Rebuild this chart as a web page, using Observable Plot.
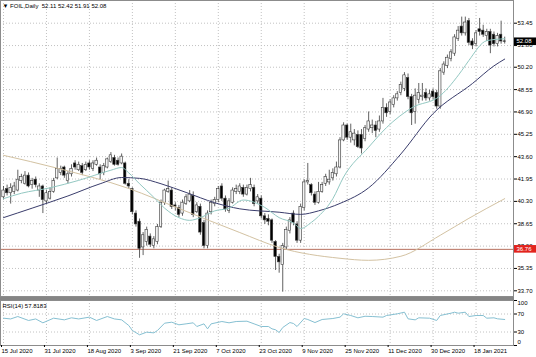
<!DOCTYPE html>
<html><head><meta charset="utf-8">
<script src="https://cdn.jsdelivr.net/npm/d3@7"></script>
<script src="https://cdn.jsdelivr.net/npm/@observablehq/plot@0.6"></script>
<style>
html,body{margin:0;padding:0;background:#fff;}
#chart{position:relative;width:536px;height:357px;overflow:hidden;background:#fff;}
#chart svg{position:absolute;left:0;display:block;}
#sep{position:absolute;left:0;top:297px;width:514px;height:3px;background:#858585;}
</style></head><body><div id="chart"><div id="sep"></div></div>
<script>
// ---- Data ----
const symbol = "FOIL,Daily";
const opens  = [40.6,41.2,40.9,41.0,41.1,41.8,41.6,42.2,41.5,41.9,41.1,41.4,40.3,40.5,41.0,42.0,42.4,42.8,41.8,42.3,43.1,42.6,42.9,42.6,43.1,42.7,43.0,42.8,42.4,42.8,43.2,43.5,43.3,43.1,43.1,41.6,41.2,39.4,38.8,36.9,37.3,37.7,37.0,37.3,38.4,40.2,41.0,41.1,40.0,39.8,39.4,40.1,40.3,40.7,39.5,39.9,38.7,37.0,39.5,40.1,40.4,41.4,40.5,39.6,40.2,41.0,41.0,41.3,40.8,41.2,41.3,40.3,40.5,39.2,39.0,38.9,37.3,36.2,35.6,36.9,38.1,39.4,38.6,37.4,39.8,41.7,41.5,40.8,40.2,41.0,41.6,41.7,42.0,42.3,42.8,44.8,45.9,45.0,44.8,45.2,45.2,44.9,45.6,45.7,45.9,45.6,46.2,47.2,46.9,47.4,47.9,48.3,48.6,49.4,48.0,46.9,47.8,48.0,48.3,47.9,48.4,48.3,47.3,49.8,50.3,50.8,51.2,52.3,53.2,52.7,53.6,52.1,51.9,53.0,52.9,52.5,52.8,52.6,51.9,52.6,52.11];
const highs  = [41.4,41.5,41.6,41.7,42.6,42.3,42.5,42.4,42.0,42.1,41.6,41.5,41.1,41.3,42.0,43.5,42.9,42.9,42.5,43.0,43.3,43.2,43.1,43.2,43.3,43.3,43.5,43.0,43.1,43.5,43.9,43.7,43.5,43.8,43.2,41.9,41.3,39.6,39.0,38.0,38.4,37.9,37.7,38.6,40.4,41.2,41.8,41.3,40.2,40.0,40.4,40.8,41.1,41.0,40.2,40.1,38.9,39.6,40.4,40.6,41.4,41.6,40.7,40.5,41.3,41.5,41.6,41.5,41.5,42.0,41.5,40.8,40.7,39.4,39.3,39.0,37.4,36.4,37.2,38.4,39.1,39.6,38.8,40.1,41.9,43.1,41.6,41.0,41.7,41.7,42.3,42.6,42.7,43.2,45.0,46.1,46.0,46.0,45.6,45.5,45.6,45.9,46.9,46.3,46.2,46.6,47.9,47.5,47.8,48.1,48.4,49.1,49.8,49.7,48.2,48.6,49.0,49.0,48.6,48.5,48.6,48.5,50.1,50.6,51.1,51.5,52.6,53.2,53.9,53.9,53.8,52.3,52.9,53.8,53.3,53.0,53.0,52.8,52.7,53.6,52.42];
const lows   = [40.4,40.7,40.1,40.8,41.0,41.6,41.5,41.3,41.2,41.3,40.6,39.4,40.1,40.4,40.9,41.9,42.2,42.0,41.6,42.1,42.6,42.5,42.2,42.5,42.6,42.5,42.9,41.9,42.2,42.7,43.1,42.9,42.9,43.0,41.5,41.2,39.3,38.4,36.1,36.3,37.0,36.9,36.8,37.1,38.3,40.0,40.9,39.7,39.6,39.1,39.2,40.0,40.2,39.1,39.4,37.8,36.8,36.8,39.3,39.9,40.2,40.3,39.5,39.4,40.1,40.8,40.8,40.6,40.7,41.0,39.9,40.1,39.0,38.6,38.5,37.2,35.2,35.0,33.6,36.7,37.9,38.5,37.2,37.2,39.6,41.5,40.7,40.0,40.1,40.9,41.4,41.5,41.8,42.1,42.7,44.7,44.8,44.6,44.4,44.2,43.8,44.7,45.4,45.3,45.0,45.4,46.0,46.5,46.7,47.2,47.7,48.1,48.4,47.8,45.9,46.0,47.5,47.7,47.7,47.7,47.8,47.1,47.1,49.6,50.1,50.6,51.0,52.1,52.5,52.5,51.8,51.5,51.7,52.5,52.4,52.1,51.2,51.7,51.7,51.9,51.91];
const closes = [41.1,40.9,41.3,41.4,41.9,42.1,42.2,41.4,41.8,41.5,41.4,40.4,40.9,41.0,41.8,42.7,42.7,42.2,42.3,42.7,42.8,43.0,42.4,43.0,42.8,43.1,43.3,42.3,42.9,43.4,43.7,43.0,43.0,43.6,41.6,41.4,39.5,38.6,36.8,37.8,38.2,37.1,37.5,38.4,40.2,41.1,41.2,39.9,39.9,39.3,40.2,40.6,40.8,39.3,40.0,38.0,37.0,39.4,40.2,40.4,41.2,40.5,39.7,40.3,41.1,41.2,41.4,40.8,41.3,41.5,40.1,40.6,39.2,38.9,38.8,37.4,36.2,35.8,37.0,38.2,38.9,38.7,37.4,39.9,41.7,41.8,40.9,40.2,41.0,41.5,42.1,41.9,42.4,42.8,44.8,45.9,45.0,45.4,45.3,44.3,44.2,45.7,46.2,45.9,45.5,46.2,47.2,46.8,47.6,47.9,48.2,48.9,49.6,48.0,46.8,48.1,48.3,48.1,47.9,48.2,48.0,47.3,49.9,50.4,50.9,51.3,52.4,52.9,52.7,53.5,52.0,51.8,52.7,52.8,52.6,52.8,51.8,51.9,52.5,52.1,52.08];

// moving averages read at sample bars
const fastMaIdx = [0,5,13,21,30,33,35,38,42,45,49,52,55,59,63,67,73,77,81,83,86,88,92,95,102,107,114,122,128,130,135,140];
const fastMaVal = [40.5,40.9,41.3,41.85,42.6,42.8,42.4,41.6,40.6,39.8,39.1,38.9,39.1,39.6,39.8,40.4,39.85,39.1,38.7,38.3,38.75,39.2,40.5,42.1,44.3,45.75,47.2,48.1,49.95,50.7,52.16,52.3];
const midMaIdx  = [0,8,18,27,33,38,44,51,59,66,77,83,88,94,102,111,120,131,137,140];
const midMaVal  = [39.1,39.8,40.7,41.6,42.06,42.0,41.6,40.96,40.2,39.75,39.5,39.34,39.6,40.15,41.3,43.8,46.78,49.0,50.3,50.8];
const slowMaIdx = [0,15,35,49,66,77,94,102,111,122,130,140];
const slowMaVal = [43.7,42.75,41.25,39.78,38.0,36.9,36.1,35.95,36.25,37.8,39.05,40.5];

// RSI(14) read at sample bars
const rsiIdx = [0,2,4,7,9,11,14,17,19,21,24,26,29,31,33,35,36,38,40,42,43,45,47,49,51,53,54,56,57,58,61,63,65,68,70,72,74,75,76,77,78,80,81,82,84,85,87,89,92,94,95,97,99,101,103,106,107,110,112,113,115,116,119,121,122,125,126,127,129,130,132,134,135,137,138,140];
const rsiVal = [60.7,59,64.4,55.6,59,50.4,60.7,57,61.5,59,63,55.6,64.4,59,57,44.4,33.3,23.8,29.6,28.1,33.3,49.6,51.8,46,48.1,50.4,42.2,48.1,37,48.1,53.3,50.4,53.3,54,48.1,42.2,42.2,37,35,28.9,40,51,48.9,42.2,60,57.8,51,57.8,60,63,70.4,66.7,61.5,65,64.4,63,66.7,70.4,74,59.3,57,61.5,60.7,55.6,66.7,71.8,74,71.8,74,64.4,66.7,66.7,60.7,61.5,59.3,57.8];
const rsiLast = "57.8183";

const dateIdx    = [0,12,24,36,48,60,72,84,96,108,120,132];
const dateLabels = ["15 Jul 2020","31 Jul 2020","18 Aug 2020","3 Sep 2020","21 Sep 2020","7 Oct 2020","23 Oct 2020","9 Nov 2020","25 Nov 2020","11 Dec 2020","30 Dec 2020","18 Jan 2021"];
const priceTicks = [33.70,35.35,37.00,38.65,40.30,41.95,43.60,45.25,46.90,48.55,50.20,51.80,53.45];
const rsiTicks   = [100,70,30,0];
const levelPrice = 36.76;

// ---- Build ----
const bars = opens.map((o,k)=>({i:k,o,h:highs[k],l:lows[k],c:closes[k]}));
const pts = (ix, v) => ix.map((x,k)=>({x, y:v[k]}));
const last = bars[bars.length-1];
const header = `\u25BC ${symbol}  ${last.o.toFixed(2)} ${last.h.toFixed(2)} ${last.l.toFixed(2)} ${last.c.toFixed(2)}`;

const xDomain = [-0.838, 142.46];
const font = '"Liberation Sans", Arial, sans-serif';
const dotted = {stroke:"#c2c2c2", strokeOpacity:1, strokeDasharray:"1,2"};
const frameColor = "#8c8c8c";

const main = Plot.plot({
  width:536, height:297, marginLeft:0, marginRight:23, marginTop:0, marginBottom:1,
  x:{domain:xDomain, axis:null},
  y:{domain:[33.28,55.125], axis:null},
  style:{fontFamily:font, fontSize:"6px", background:"transparent", overflow:"visible", color:"#000"},
  marks:[
    Plot.gridY(priceTicks, dotted),
    Plot.gridX(dateIdx, dotted),
    Plot.ruleY([levelPrice], {stroke:"#b8705e", strokeWidth:1}),
    Plot.ruleX(bars, {x:"i", y1:"l", y2:"h", stroke:"#3a3a3a", strokeWidth:0.8}),
    Plot.rect(bars, {x1:d=>d.i-0.34, x2:d=>d.i+0.34, y1:"o", y2:"c",
      fill:d=>d.c>=d.o?"#f4f4f4":"#000", stroke:"#3a3a3a", strokeWidth:0.6}),
    Plot.line(pts(slowMaIdx, slowMaVal), {x:"x", y:"y", stroke:"#d3c2a2", strokeWidth:1, curve:"monotone-x"}),
    Plot.line(pts(midMaIdx, midMaVal), {x:"x", y:"y", stroke:"#3a3d6c", strokeWidth:1, curve:"monotone-x"}),
    Plot.line(pts(fastMaIdx, fastMaVal), {x:"x", y:"y", stroke:"#93c8c2", strokeWidth:1, curve:"monotone-x"}),
    Plot.frame({stroke:frameColor}),
    Plot.axisY(priceTicks, {anchor:"right", label:null, tickSize:3, tickPadding:1, tickFormat:d3.format(".2f"), fontSize:6}),
    Plot.text([header], {frameAnchor:"top-left", dx:2, dy:3, textAnchor:"start", fontSize:6})
  ]
});
document.getElementById("chart").appendChild(main);
main.style.top = "0px";

// price labels (current close and level) using the plot's own y scale
const ys = main.scale("y");
const msvg = d3.select(main);
[[last.c, "#000"], [levelPrice, "#e2231d"]].forEach(([v, col])=>{
  const yy = ys.apply(v);
  msvg.append("rect").attr("x",514).attr("y",yy-3.8).attr("width",22).attr("height",7.6).attr("fill",col);
  msvg.append("text").attr("x",516.5).attr("y",yy+2.2).attr("fill","#fff").attr("text-anchor","start")
    .attr("font-size",6).attr("font-family",font).text(v.toFixed(2));
});

const rsi = Plot.plot({
  width:536, height:60, marginLeft:0, marginRight:23, marginTop:3, marginBottom:12,
  x:{domain:xDomain, axis:null},
  y:{domain:[0,100], axis:null},
  style:{fontFamily:font, fontSize:"6px", background:"transparent", overflow:"visible", color:"#000"},
  marks:[
    Plot.gridX(dateIdx, dotted),
    Plot.gridY([30,70], dotted),
    Plot.line(pts(rsiIdx, rsiVal), {x:"x", y:"y", stroke:"#86c0d2", strokeWidth:1}),
    Plot.frame({stroke:frameColor}),
    Plot.axisX(dateIdx, {anchor:"bottom", label:null, tickSize:2, tickPadding:1, textAnchor:"start", dx:-2,
      tickFormat:d=>dateLabels[dateIdx.indexOf(d)], fontSize:6}),
    Plot.axisY(rsiTicks, {anchor:"right", label:null, tickSize:3, tickFormat:()=>""}),
    Plot.text(rsiTicks.slice(1,3), {y:d=>d, text:d=>String(d), frameAnchor:"right", dx:4, textAnchor:"start", fontSize:6}),
    Plot.text([rsiTicks[0]], {y:d=>d, text:d=>String(d), frameAnchor:"right", dx:4, dy:2.5, textAnchor:"start", fontSize:6}),
    Plot.text([rsiTicks[3]], {y:d=>d, text:d=>String(d), frameAnchor:"right", dx:4, dy:-3, textAnchor:"start", fontSize:6}),
    Plot.text([`RSI(14) ${rsiLast}`], {frameAnchor:"top-left", dx:2, dy:3, textAnchor:"start", fontSize:6})
  ]
});
document.getElementById("chart").appendChild(rsi);
rsi.style.top = "297px";
</script></body></html>
